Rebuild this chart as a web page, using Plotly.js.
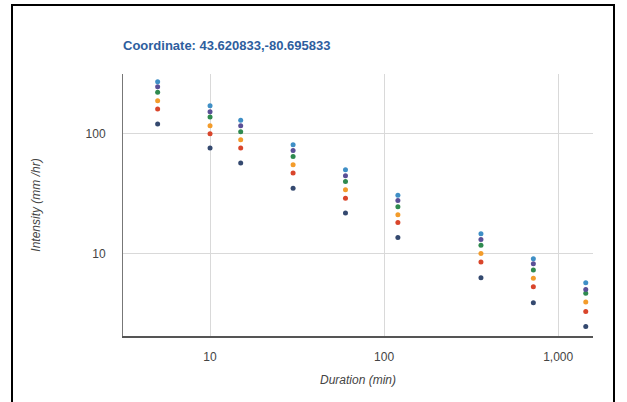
<!DOCTYPE html>
<html>
<head>
<meta charset="utf-8">
<script src="https://cdn.plot.ly/plotly-3.0.1.min.js"></script>
<style>
  html, body { margin: 0; padding: 0; background: #fff; }
  #wrap { position: relative; width: 627px; height: 402px; overflow: hidden; }
  #chart { width: 627px; height: 402px; }
  #frame { position: absolute; left: 11px; top: 4px; width: 600px; height: 420px;
           border: 2px solid #000; pointer-events: none; }
</style>
</head>
<body>
<div id="wrap"><div id="chart"></div><div id="frame"></div></div>
<script>
// Durations (min)
const durations = [5, 10, 15, 30, 60, 120, 360, 720, 1440];
// Intensity (mm/hr) by return period
const yr2   = [121, 76, 57, 35, 21.8, 13.6, 6.27, 3.88, 2.45];
const yr5   = [161, 100, 76, 47, 29, 18.1, 8.47, 5.28, 3.27];
const yr10  = [189, 117, 89, 55.2, 34, 21.1, 10, 6.19, 3.93];
const yr25  = [223, 138, 104, 64.7, 40, 24.6, 11.7, 7.26, 4.64];
const yr50  = [248, 153, 117, 72.6, 44.7, 27.7, 13.1, 8.2, 5.0];
const yr100 = [273, 172, 130, 81, 50, 30.7, 14.6, 9.03, 5.7];

const seriesNames = ['2 yr', '5 yr', '10 yr', '25 yr', '50 yr', '100 yr'];
const seriesData = [yr2, yr5, yr10, yr25, yr50, yr100];
const seriesColors = ['#34496f', '#d9452b', '#f39c2b', '#2f8a4f', '#5a4f96', '#3f8fc6'];

const xTickVals = [10, 100, 1000];
const xTickText = ['10', '100', '1,000'];
const yTickVals = [10, 100];
const yTickText = ['10', '100'];

const titleText = 'Coordinate: 43.620833,-80.695833';

const traces = seriesData.map((vals, i) => ({
  type: 'scatter',
  mode: 'markers',
  name: seriesNames[i],
  x: durations,
  y: vals,
  marker: { color: seriesColors[i], size: 5 }
}));

const font = 'Liberation Sans, Arial, sans-serif';

const layout = {
  width: 627,
  height: 402,
  margin: { l: 123, r: 34, t: 74, b: 66 },
  paper_bgcolor: '#ffffff',
  plot_bgcolor: '#ffffff',
  showlegend: false,
  font: { family: font, size: 12, color: '#444' },
  title: {
    text: titleText,
    font: { family: font, size: 13, color: '#2e5e9e', weight: 'bold' },
    xref: 'paper', x: 0, xanchor: 'left',
    yref: 'container', y: 1 - 45 / 402, yanchor: 'middle'
  },
  xaxis: {
    type: 'log',
    range: [0.5, 3.2],
    tickvals: xTickVals,
    ticktext: xTickText,
    ticks: '',
    ticklabelstandoff: 9,
    showgrid: true,
    gridcolor: '#d9d9d9',
    gridwidth: 1,
    showline: true,
    linecolor: '#555',
    linewidth: 2,
    zeroline: false,
    tickfont: { family: font, size: 12, color: '#444' },
    title: { text: 'Duration (min)', font: { family: font, size: 12, color: '#444', style: 'italic' }, standoff: 12 }
  },
  yaxis: {
    type: 'log',
    range: [0.31, 2.5],
    tickvals: yTickVals,
    ticktext: yTickText,
    ticks: '',
    ticklabelstandoff: 14,
    showgrid: true,
    gridcolor: '#d9d9d9',
    gridwidth: 1,
    showline: true,
    linecolor: '#777',
    linewidth: 1,
    zeroline: false,
    tickfont: { family: font, size: 12, color: '#444' },
    title: { text: 'Intensity (mm /hr)', font: { family: font, size: 12, color: '#444', style: 'italic' }, standoff: 42 }
  }
};

Plotly.newPlot('chart', traces, layout, { displayModeBar: false, staticPlot: true });
</script>
</body>
</html>
